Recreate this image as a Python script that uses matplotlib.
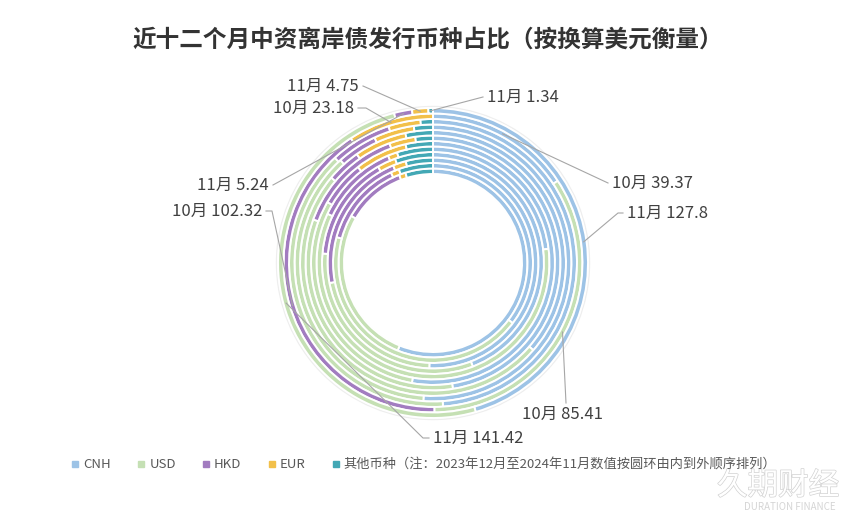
import numpy as np
import matplotlib
matplotlib.use("Agg")
import matplotlib.pyplot as plt
from matplotlib.lines import Line2D
import matplotlib.patheffects as pe

plt.rcParams['font.family'] = ['Noto Sans CJK SC', 'DejaVu Sans']

# data: Dec 2023 .. Nov 2024, inner ring -> outer ring
months = ['2023-12', '2024-01', '2024-02', '2024-03', '2024-04', '2024-05',
          '2024-06', '2024-07', '2024-08', '2024-09', '10月', '11月']
currencies = ['CNH', 'USD', 'HKD', 'EUR', '其他币种（注：2023年12月至2024年11月数值按圆环由内到外顺序排列）']
cnh = [101.0, 77.61, 75.83, 114.83, 53.03, 126.67, 133.0, 90.97, 102.22, 132.0, 39.37, 127.8]
usd = [49.0, 96.56, 32.08, 83.78, 135.44, 73.33, 92.56, 124.31, 74.44, 105.75, 85.41, 141.42]
hkd = [19.5, 30.6, 32.8, 40.0, 27.0, 14.67, 38.89, 10.42, 9.44, 18.75, 102.32, 5.24]
eur = [2.0, 3.0, 3.0, 7.0, 3.0, 16.67, 9.33, 15.97, 9.44, 9.75, 23.18, 4.75]
other = [8.5, 12.22, 6.25, 14.44, 11.5, 8.67, 6.22, 8.33, 4.44, 3.75, 0.0, 1.34]
colors = ['#9DC3E6', '#C5E0B4', '#A27CC0', '#F2C04A', '#43A8B5']

W, H = 855, 515
CX, CY = 433, 263          # ring centre in pixels (from top-left)
R0, DR = 89, 5.5           # inner radius and ring thickness

fig = plt.figure(figsize=(W / 100, H / 100), dpi=100)
ax = fig.add_axes([0, 0, 1, 1])

# faint halo round the outer ring
ax.add_patch(plt.Circle((0, 0), R0 + 12 * DR + 1.5, color='#EEEEEE', zorder=0))
ax.add_patch(plt.Circle((0, 0), R0 + 12 * DR, color='white', zorder=0))

table = np.array([cnh, usd, hkd, eur, other]).T
for k, row in enumerate(table):
    ax.pie(row, radius=R0 + (k + 1) * DR, startangle=90, counterclock=False,
           colors=colors,
           wedgeprops=dict(width=DR, edgecolor='white', linewidth=1.4))

ax.set_xlim(-CX, W - CX)
ax.set_ylim(-(H - CY), CY)
ax.set_aspect('equal')
ax.axis('off')


def px(x, y):
    # figure pixel (from top-left) -> data coords
    return x - CX, CY - y


def anchor(m, c):
    row = table[m]
    mid = (row[:c].sum() + row[c] / 2) / row.sum() * 2 * np.pi
    r = R0 + (m + 0.5) * DR
    return r * np.sin(mid), r * np.cos(mid)


# labels: (month, currency, line points in px, text pos in px, ha)
labels = [
    (11, 4, [(483, 97)], (487, 97), 'left'),
    (11, 3, [(363, 86)], (359, 86), 'right'),
    (10, 3, [(366, 108), (358, 108)], (354, 108), 'right'),
    (11, 2, [(273, 185)], (269, 185), 'right'),
    (10, 2, [(272, 211), (266, 211)], (262, 211), 'right'),
    (10, 0, [(608, 183)], (612, 183), 'left'),
    (11, 0, [(618, 213), (623, 213)], (627, 213), 'left'),
    (10, 1, [(566, 403)], (563, 414), 'center'),
    (11, 1, [(423, 438), (429, 438)], (433, 438), 'left'),
]
for m, c, pts, tpos, ha in labels:
    xs, ys = zip(*([anchor(m, c)] + [px(*p) for p in pts]))
    ax.plot(xs, ys, color='#A6A6A6', lw=0.8, clip_on=False)
    val = table[m][c]
    ax.text(*px(*tpos), f"{months[m]} {val:g}",
            ha=ha, va='center', fontsize=12, color='#404040')

fig.text(428 / W, 1 - 40 / H, '近十二个月中资离岸债发行币种占比（按换算美元衡量）',
         ha='center', va='center', fontsize=17, fontweight='bold', color='#333333')

handles = [Line2D([], [], marker='s', ls='', color=c, markersize=4) for c in colors]
fig.legend(handles, currencies, loc='center', bbox_to_anchor=(424 / W, 1 - 465 / H),
           ncol=5, frameon=False, fontsize=9.5, handlelength=0.6, handletextpad=0.3,
           columnspacing=2.0, labelcolor='#595959')

# watermark
wm = fig.text(778 / W, 1 - 486 / H, '久期财经', ha='center', va='center', fontsize=22,
              color='white')
wm.set_path_effects([pe.withStroke(linewidth=1.0, foreground='#D2D2D2')])
fig.text(790 / W, 1 - 507 / H, 'DURATION FINANCE', ha='center', va='center',
         fontsize=7, color='#D5D5D5')

fig.savefig('out.png', dpi=100)
